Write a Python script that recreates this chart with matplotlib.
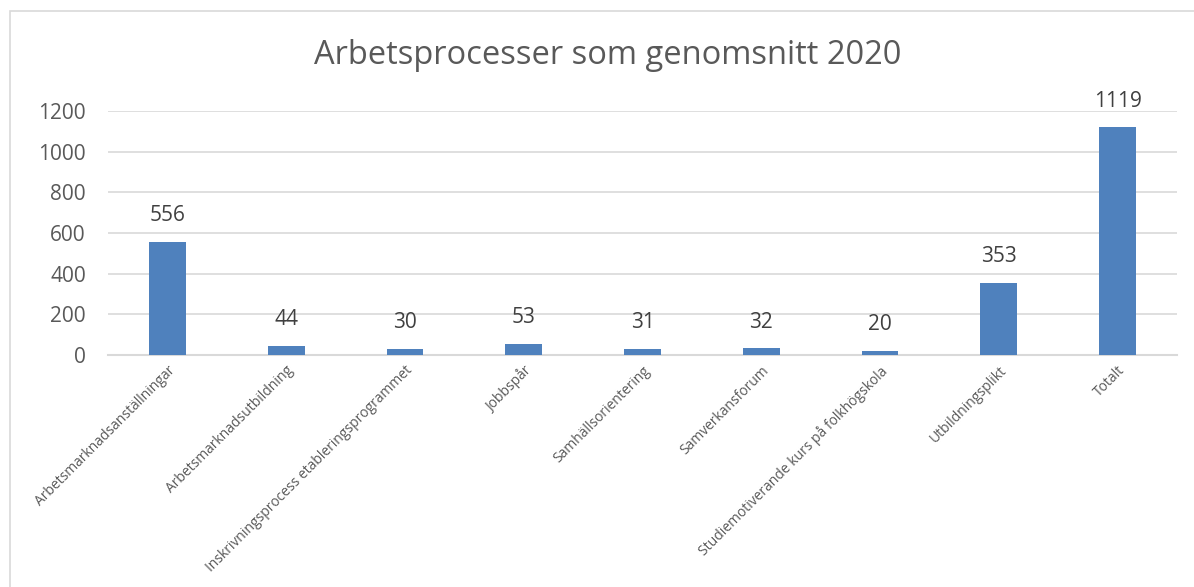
import matplotlib
matplotlib.use("Agg")
import matplotlib.pyplot as plt
from matplotlib.patches import Rectangle

categories = ["Arbetsmarknadsanställningar", "Arbetsmarknadsutbildning",
              "Inskrivningsprocess etableringsprogrammet", "Jobbspår",
              "Samhällsorientering", "Samverkansforum",
              "Studiemotiverande kurs på folkhögskola", "Utbildningsplikt", "Totalt"]
values = [556, 44, 30, 53, 31, 32, 20, 353, 1119]
yticks = [0, 200, 400, 600, 800, 1000, 1200]
title = "Arbetsprocesser som genomsnitt 2020"

plt.rcParams['font.family'] = ['Open Sans', 'DejaVu Sans']
W, H = 1194, 587
fig = plt.figure(figsize=(W / 100, H / 100), dpi=100)
fig.patch.set_facecolor("white")

# outer chart frame
fig.patches.append(Rectangle((10 / W, -0.1), 1.2, (H - 11) / H + 0.1,
                             transform=fig.transFigure, fill=False,
                             edgecolor="#d9d9d9", linewidth=1.2, zorder=0))

left, right = 108 / W, 1177 / W
top_px, bot_px = 111, 355
ax = fig.add_axes([left, 1 - bot_px / H, right - left, (bot_px - top_px) / H])
x = list(range(len(categories)))
bars = ax.bar(x, values, width=0.31, color="#4f81bd", zorder=3)
ax.set_xlim(-0.5, len(categories) - 0.5)
ax.set_ylim(0, 1200)
ax.set_yticks(yticks)
ax.set_yticklabels([str(t) for t in yticks], fontsize=15, color="#595959")
ax.yaxis.grid(True, color="#d9d9d9", linewidth=1.2, zorder=0)
ax.set_axisbelow(True)
for s in ["top", "right", "left"]:
    ax.spines[s].set_visible(False)
ax.spines["bottom"].set_color("#d9d9d9")
ax.spines["bottom"].set_linewidth(1.5)
ax.tick_params(axis="y", length=0, pad=16)
ax.tick_params(axis="x", length=0, pad=6)
ax.set_xticks(x)
ax.set_xticklabels(categories, rotation=45, ha="right", rotation_mode="anchor",
                   fontsize=10, color="#595959")
for b, v in zip(bars, values):
    ax.annotate(str(v), (b.get_x() + b.get_width() / 2, v), xytext=(0, 19),
                textcoords="offset points", ha="center", va="center",
                fontsize=15, color="#404040")

fig.text(608 / W, 1 - 55 / H, title, ha="center", va="center",
         fontsize=23.5, color="#595959")

fig.savefig("out.png", dpi=100, facecolor="white")
